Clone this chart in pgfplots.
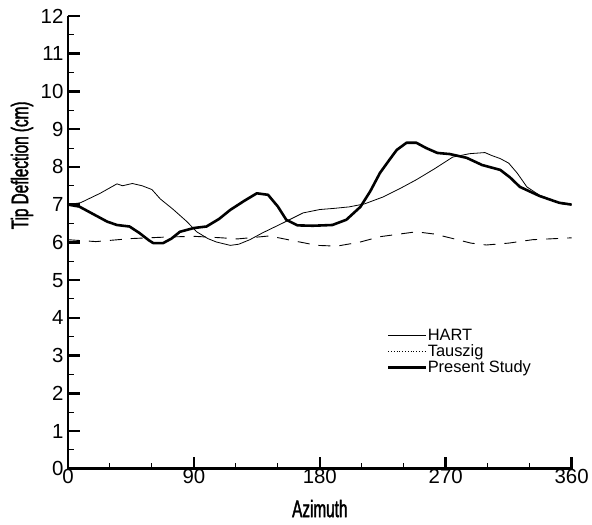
\documentclass[border=0pt]{standalone}
\usepackage{fontspec}
\setmainfont{Liberation Sans}
\newfontfamily\condfont[FakeStretch=0.64,FakeBold=1.6]{Liberation Sans}
\usepackage{pgfplots}
\pgfplotsset{compat=1.18}
\begin{document}
\begin{tikzpicture}
\begin{axis}[
  scale only axis,
  width=504bp, height=453bp,
  xmin=0, xmax=360, ymin=0, ymax=12,
  axis x line=bottom, axis y line=left,
  axis line style={-, line width=2.6bp},
  xtick={0,90,180,270,360},
  ytick={0,1,...,12},
  minor x tick num=2,
  minor y tick num=1,
  tick align=inside,
  major tick length=12bp,
  minor tick length=6bp,
  every major tick/.style={line width=2.6bp,black},
  every minor tick/.style={line width=0.9bp,black},
  /pgf/number format/assume math mode=true,
  tick label style={font=\fontsize{20.5}{22}\selectfont},
  yticklabel style={xshift=-1bp},
  xticklabel style={yshift=3bp},
  xlabel={\condfont\fontsize{24}{26}\selectfont Azimuth},
  ylabel={\condfont\fontsize{24}{26}\selectfont Tip Deflection (cm)},
  xlabel style={at={(axis description cs:0.5,-0.088)}, anchor=center},
  ylabel style={at={(axis description cs:-0.0913,0.67)}, anchor=center},
  legend style={draw=none, fill=none, at={(axis description cs:0.633,0.31)}, anchor=north west,
    font=\fontsize{16.5}{17}\selectfont, row sep=2.5bp, inner sep=0pt,
    nodes={inner sep=0.2bp}},
  legend cell align=left,
  legend image code/.code={\draw[#1] (0bp,0bp) -- (38bp,0bp);},
]
\addplot[black, line width=0.8bp] coordinates {
(0,7.0)(9,7.05)(23,7.3)(35,7.55)(39,7.5)(46,7.56)(53,7.5)(60,7.4)(66,7.15)(75,6.88)
(85,6.55)(92,6.28)(100,6.1)(106,6.01)(116,5.92)(122,5.95)(130,6.07)(139,6.25)(154,6.52)
(168,6.78)(180,6.87)(190,6.9)(201,6.94)(212,7.02)(225,7.2)(237,7.42)(249,7.66)(262,7.95)
(275,8.26)(287,8.35)(298,8.38)(303,8.3)(309,8.22)(315,8.1)(321,7.84)(328,7.47)(337,7.25)
(346,7.12)(353,7.02)(360,7.0)};
\addlegendentry{HART}
\addlegendimage{black, line width=0.8bp, dotted}
\addlegendentry{Tauszig}
\addplot[black, line width=0.9bp, dash pattern=on 12bp off 9bp, forget plot] coordinates {
(0,6.07)(20,6.02)(45,6.1)(70,6.14)(90,6.16)(110,6.12)(121,6.09)(144,6.17)(160,6.05)
(178,5.92)(192,5.9)(208,6.0)(223,6.15)(249,6.28)(262,6.22)(273,6.12)(288,5.98)(299,5.93)
(315,5.98)(332,6.07)(360,6.12)};
\addplot[black, line width=2.6bp, line join=round] coordinates {
(0,7.0)(8,6.95)(18,6.75)(28,6.55)(35,6.46)(44,6.42)(51,6.25)(58,6.05)(61,5.98)(68,5.98)
(74,6.1)(80,6.28)(90,6.38)(99,6.42)(108,6.62)(116,6.86)(126,7.1)(135,7.3)(143,7.26)
(150,6.95)(156,6.6)(164,6.45)(175,6.44)(189,6.46)(199,6.6)(209,6.94)(216,7.35)(223,7.84)
(230,8.2)(235,8.45)(242,8.64)(249,8.64)(256,8.5)(264,8.37)(273,8.34)(285,8.24)(296,8.05)
(309,7.92)(316,7.72)(323,7.47)(337,7.23)(351,7.05)(360,7.0)};
\addlegendentry{Present Study}
\end{axis}
\useasboundingbox ([shift={(-68bp,-56bp)}]current axis.south west) rectangle ([shift={(20bp,16bp)}]current axis.north east);
\end{tikzpicture}
\end{document}
